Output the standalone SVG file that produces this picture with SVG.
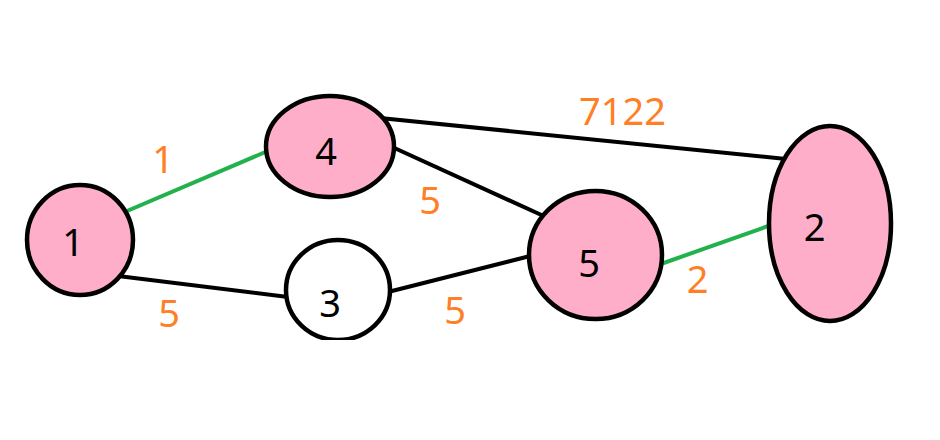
<svg xmlns="http://www.w3.org/2000/svg" width="940" height="440" viewBox="0 0 940 440">
<style>
.n{stroke:#000;stroke-width:4.5}
.p{fill:#FFAEC9}
.w{fill:#fff}
.e{stroke:#000;stroke-width:4;fill:none}
.g{stroke:#22B14C;stroke-width:4;fill:none}
.t{font-family:"Noto Sans","Open Sans",sans-serif;font-size:38px;text-anchor:middle;fill:#000}
.o{font-family:"Noto Sans","Open Sans",sans-serif;font-size:38px;text-anchor:middle;fill:#FF7F27}
</style>
<defs>
<clipPath id="c3"><rect x="0" y="0" width="940" height="340"/></clipPath>
</defs>
<rect width="940" height="440" fill="#fff"/>
<g id="connectors">
<line class="g" x1="120" y1="214" x2="270" y2="150"/>
<line class="e" x1="118" y1="276" x2="288" y2="297"/>
<line class="e" x1="380" y1="118" x2="786" y2="159"/>
<line class="e" x1="390" y1="146" x2="548" y2="218"/>
<line class="e" x1="388" y1="292" x2="534" y2="255"/>
<line class="g" x1="658" y1="265" x2="774" y2="224"/>
</g>
<g id="node1"><ellipse class="n p" cx="80" cy="240" rx="53" ry="55"/><text class="t" x="73" y="256">1</text></g>
<g id="node4"><ellipse class="n p" cx="330" cy="146.5" rx="64" ry="50.5"/><text class="t" x="326" y="165">4</text></g>
<g id="node3"><ellipse class="n w" cx="338" cy="290" rx="52" ry="50" clip-path="url(#c3)"/><text class="t" x="330" y="317">3</text></g>
<g id="node5"><ellipse class="n p" cx="595.5" cy="255" rx="66.5" ry="64"/><text class="t" x="589" y="277">5</text></g>
<g id="node2"><ellipse class="n p" cx="830" cy="223.5" rx="61" ry="97.5"/><text class="t" x="814.5" y="241">2</text></g>
<g id="labels">
<text class="o" x="163" y="173">1</text>
<text class="o" x="169" y="327">5</text>
<text class="o" x="622.5" y="125">7122</text>
<text class="o" x="430" y="214">5</text>
<text class="o" x="455" y="324">5</text>
<text class="o" x="697.5" y="293">2</text>
</g>
</svg>
